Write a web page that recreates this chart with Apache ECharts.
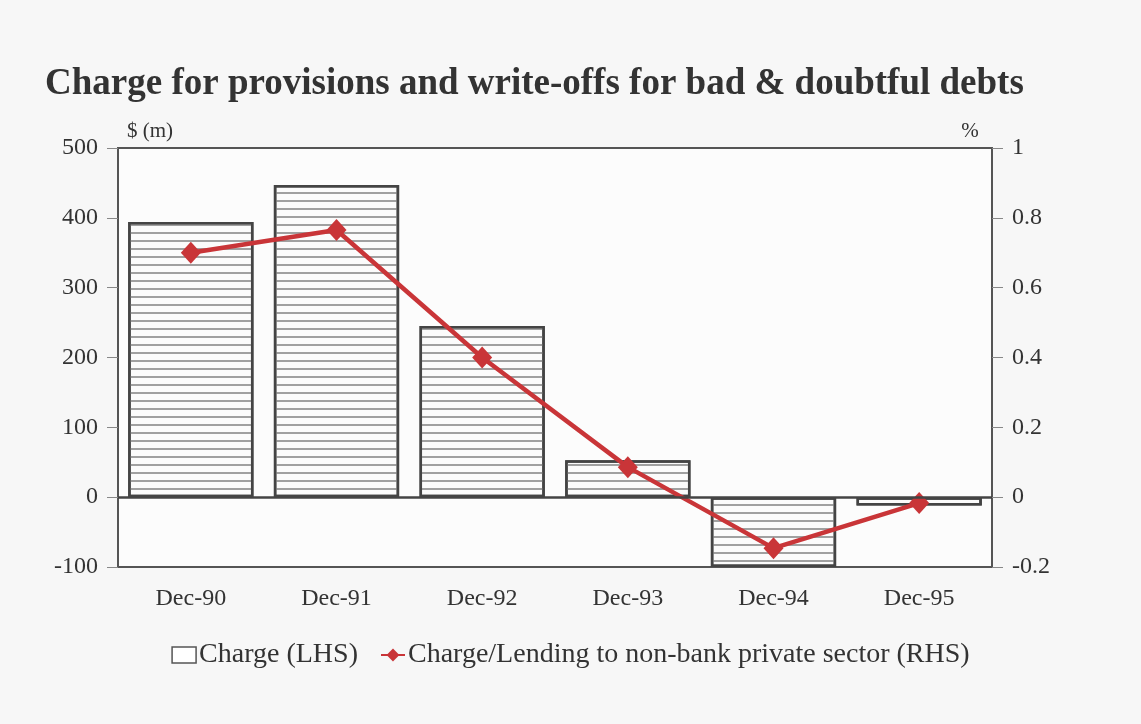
<!DOCTYPE html>
<html><head><meta charset="utf-8">
<script src="https://cdn.jsdelivr.net/npm/echarts@6/dist/echarts.min.js"></script>
<style>html,body{margin:0;padding:0;background:#f7f7f7}#c{width:1141px;height:724px}</style>
</head><body><div id="c"></div>
<script>
const categories = ['Dec-90','Dec-91','Dec-92','Dec-93','Dec-94','Dec-95'];
const chargeLHS = [394, 447, 245, 53, -100, -12];
const ratioRHS = [0.70, 0.765, 0.40, 0.086, -0.146, -0.017];
const leftTicks = {min:-100, max:500, interval:100};
const rightTicks = {min:-0.2, max:1, interval:0.2};

const serif = '"Liberation Serif","DejaVu Serif",serif';
const chart = echarts.init(document.getElementById('c'));
chart.setOption({
  backgroundColor:'#f7f7f7',
  animation:false,
  title:{text:'Charge for provisions and write-offs for bad & doubtful debts',left:40,top:61,
    textStyle:{fontFamily:serif,fontSize:37,fontWeight:'bold',color:'#333'}},
  legend:{top:636,left:'center',itemGap:22,itemWidth:24,itemHeight:16,
    textStyle:{fontFamily:serif,fontSize:28,color:'#333',padding:[0,0,0,-2]},
    data:[{name:'Charge (LHS)',icon:'rect',itemStyle:{color:'#fff',borderColor:'#555',borderWidth:1.5,decal:'none'}},
          {name:'Charge/Lending to non-bank private sector (RHS)'}]},
  grid:{left:118,right:149,top:148,bottom:157,show:true,borderColor:'#555',borderWidth:2,backgroundColor:'#fcfcfc'},
  xAxis:{type:'category',data:categories,
    axisLine:{show:false},
    axisTick:{alignWithLabel:true,length:8,lineStyle:{color:'#888'}},
    axisLabel:{fontFamily:serif,fontSize:24,color:'#333',margin:20}},
  yAxis:[
    {type:'value',min:leftTicks.min,max:leftTicks.max,interval:leftTicks.interval,name:'$ (m)',
     nameTextStyle:{fontFamily:serif,fontSize:21,color:'#333',padding:[0,0,-2,64]},nameGap:8,
     splitLine:{show:false},axisLine:{show:false},
     axisTick:{show:true,length:11,lineStyle:{color:'#888'}},
     axisLabel:{fontFamily:serif,fontSize:24,color:'#333',margin:20}},
    {type:'value',min:rightTicks.min,max:rightTicks.max,interval:rightTicks.interval,name:'%',
     nameTextStyle:{fontFamily:serif,fontSize:21,color:'#333',padding:[0,44,-2,0]},nameGap:8,
     splitLine:{show:false},axisLine:{show:false},
     axisTick:{show:true,length:11,lineStyle:{color:'#888'}},
     axisLabel:{fontFamily:serif,fontSize:24,color:'#333',margin:20}}
  ],
  series:[
    {name:'Charge (LHS)',type:'bar',yAxisIndex:0,data:chargeLHS,barCategoryGap:'14%',
     itemStyle:{color:'#fbfbfb',borderColor:'#444',borderWidth:2.5,
       decal:{symbol:'rect',symbolSize:1,dashArrayX:[1,0],dashArrayY:[1.4,6],rotation:0,color:'#a0a0a0'}},
     markLine:{silent:true,symbol:'none',label:{show:false},lineStyle:{color:'#444',width:2.5,type:'solid'},data:[{yAxis:0}]}},
    {name:'Charge/Lending to non-bank private sector (RHS)',type:'line',yAxisIndex:1,data:ratioRHS,
     symbol:'diamond',symbolSize:[20,22],
     lineStyle:{color:'#c93538',width:4.5},itemStyle:{color:'#c93538'}}
  ]
});
</script></body></html>
